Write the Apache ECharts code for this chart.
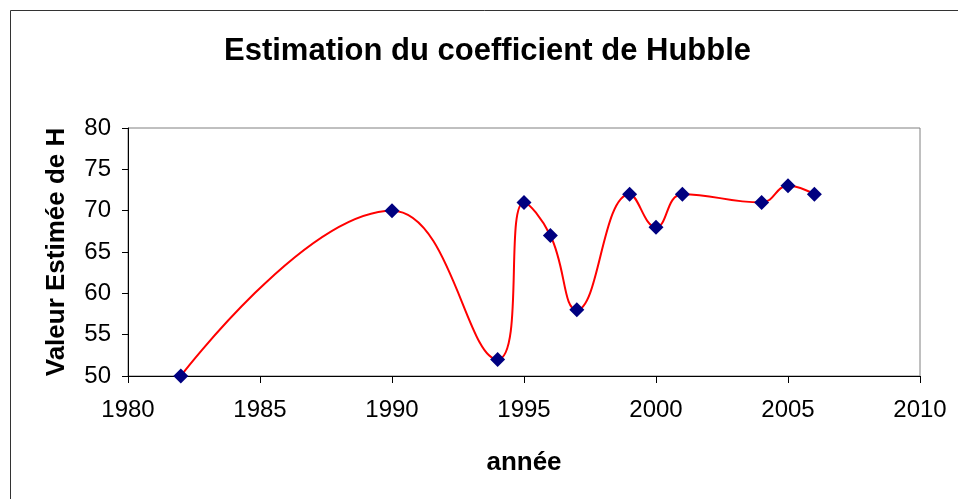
<!DOCTYPE html>
<html>
<head>
<meta charset="utf-8">
<script src="https://cdn.jsdelivr.net/npm/echarts@6/dist/echarts.min.js"></script>
<style>
html,body{margin:0;padding:0;background:#fff;}
#main{width:958px;height:499px;}
</style>
</head>
<body>
<div id="main"></div>
<script>
// donnees
var annees = [1982, 1990, 1994, 1995, 1996, 1997, 1999, 2000, 2001, 2004, 2005, 2006];
var valeursH = [50, 70, 52, 71, 67, 58, 72, 68, 72, 71, 73, 72];
var xTicks = [1980, 1985, 1990, 1995, 2000, 2005, 2010];
var yTicks = [50, 55, 60, 65, 70, 75, 80];

var police = '"Liberation Sans", Arial, sans-serif';
var donnees = [];
for (var i = 0; i < annees.length; i++) {
	donnees.push([annees[i], valeursH[i]]);
}

var myChart = echarts.init(document.getElementById("main"));
var option = {
	backgroundColor: '#fff',
	animation: false,
	title: {
		text: 'Estimation du coefficient de Hubble',
		left: 219,
		top: 31,
		textStyle: {fontFamily: police, fontSize: 31, fontWeight: 'bold', color: '#000'}
	},
	graphic: [{
		type: 'rect',
		shape: {x: 10.5, y: 10.5, width: 1000, height: 600},
		style: {fill: 'none', stroke: '#333', lineWidth: 1}
	}],
	grid: {
		left: 128, right: 38, top: 128, bottom: 123,
		show: true, borderColor: '#808080', borderWidth: 1,
		containLabel: false
	},
	xAxis: {
		type: 'value',
		min: xTicks[0], max: xTicks[xTicks.length - 1], interval: 5,
		name: 'année',
		nameLocation: 'middle',
		nameGap: 74,
		nameTextStyle: {fontFamily: police, fontSize: 26, fontWeight: 'bold', color: '#000'},
		axisLine: {show: true, lineStyle: {color: '#000', width: 1}},
		axisTick: {show: true, inside: false, length: 7, lineStyle: {color: '#000'}},
		axisLabel: {
			fontFamily: police, fontSize: 24, color: '#000', margin: 22,
			showMinLabel: true, showMaxLabel: true,
			formatter: function (v) { return String(v); }
		},
		splitLine: {show: false}
	},
	yAxis: {
		type: 'value',
		min: yTicks[0], max: yTicks[yTicks.length - 1], interval: 5,
		name: 'Valeur Estimée de H',
		nameLocation: 'middle',
		nameGap: 58,
		nameTextStyle: {fontFamily: police, fontSize: 26, fontWeight: 'bold', color: '#000'},
		axisLine: {show: true, lineStyle: {color: '#000', width: 1}},
		axisTick: {show: true, inside: false, length: 6, lineStyle: {color: '#000'}},
		axisLabel: {fontFamily: police, fontSize: 24, color: '#000', margin: 17},
		splitLine: {show: false}
	},
	series: [{
		type: 'line',
		data: donnees,
		smooth: 0.45,
		symbol: 'diamond',
		symbolSize: 15,
		itemStyle: {color: '#000080'},
		lineStyle: {color: '#ff0000', width: 2},
		z: 3
	}]
};
myChart.setOption(option);
</script>
</body>
</html>
